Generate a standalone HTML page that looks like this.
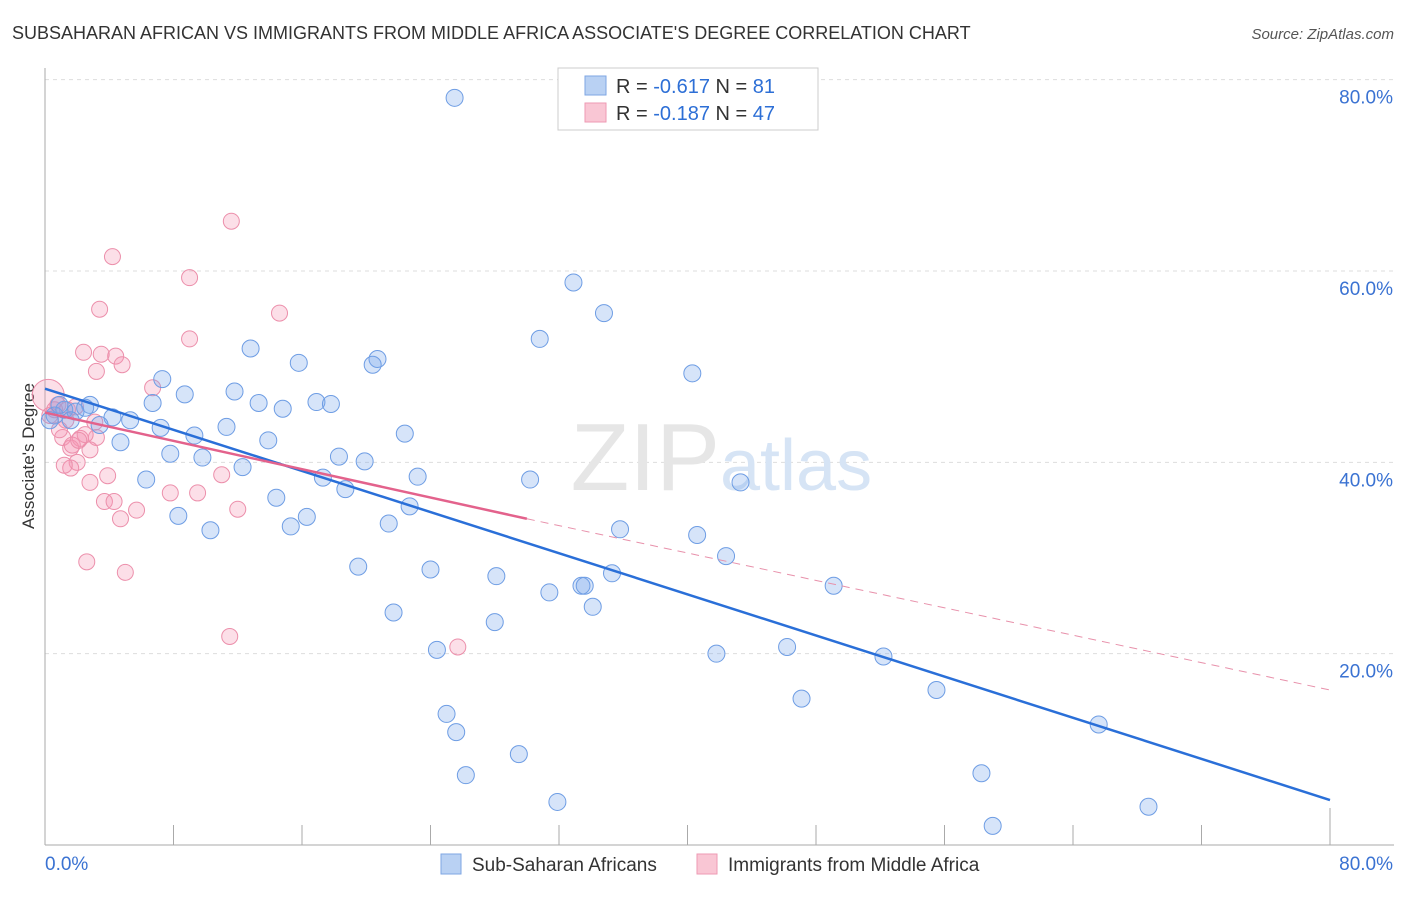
<!DOCTYPE html>
<html><head><meta charset="utf-8"><style>
body{margin:0;background:#fff;font-family:"Liberation Sans",sans-serif;}
svg text{font-family:"Liberation Sans",sans-serif;}
</style></head><body>
<svg id="chart" width="1406" height="892" viewBox="0 0 1406 892" xmlns="http://www.w3.org/2000/svg">
<text x="12" y="39" font-size="18" fill="#333">SUBSAHARAN AFRICAN VS IMMIGRANTS FROM MIDDLE AFRICA ASSOCIATE'S DEGREE CORRELATION CHART</text>
<text x="1394" y="39" font-size="15" fill="#555" text-anchor="end" font-style="italic">Source: ZipAtlas.com</text>
<g id="grid"></g>
<text x="720" y="490" font-size="96" fill="#e6e6e6" text-anchor="end" font-family="Liberation Serif">ZIP</text>
<text x="720" y="490" font-size="72" fill="#d6e4f5">atlas</text>
<text transform="translate(34,456) rotate(-90)" font-size="17" fill="#333" text-anchor="middle">Associate's Degree</text>
<g id="pts"></g>
<g id="lines"></g>
<g>
<rect x="558" y="68" width="260" height="62" fill="#fff" stroke="#ccc"/>
<rect x="585" y="76" width="21" height="19" fill="#b9d1f3" stroke="#7ea6e3"/>
<rect x="585" y="103" width="21" height="19" fill="#f9c6d4" stroke="#ee9ab3"/>
<text x="616" y="93" font-size="20" fill="#333">R = <tspan fill="#2d6fd6">-0.617</tspan>   N = <tspan fill="#2d6fd6">81</tspan></text>
<text x="616" y="120" font-size="20" fill="#333">R = <tspan fill="#2d6fd6">-0.187</tspan>   N = <tspan fill="#2d6fd6">47</tspan></text>
</g>
<g>
<rect x="441" y="854" width="20" height="20" fill="#b9d1f3" stroke="#7ea6e3"/>
<text x="472" y="871" font-size="19" fill="#333">Sub-Saharan Africans</text>
<rect x="697" y="854" width="20" height="20" fill="#f9c6d4" stroke="#ee9ab3"/>
<text x="728" y="871" font-size="19" fill="#333">Immigrants from Middle Africa</text>
</g>
</svg>
<script>
const blueX=[25.5,32.9,34.8,30.8,12.8,20.7,20.4,15.8,40.3,7.3,8.7,11.8,6.7,13.3,16.9,17.8,14.8,2.8,4.2,11.3,7.2,9.3,22.4,13.9,4.7,7.8,9.8,18.3,19.9,12.3,23.2,17.3,30.2,18.7,6.3,43.3,14.4,22.7,16.3,8.3,15.3,10.3,21.4,35.8,40.6,42.4,19.5,24.0,28.1,35.3,33.4,33.6,49.1,31.4,34.1,21.7,28.0,24.4,41.8,46.2,52.2,55.5,47.1,25.0,25.6,65.6,29.5,26.2,58.3,31.9,68.7,59.0,0.6,1.2,1.9,2.5,1.6,3.4,5.3,0.3,0.9];
const blueY=[78.1,58.8,55.6,52.9,51.9,50.8,50.2,50.4,49.3,48.7,47.1,47.4,46.2,46.2,46.3,46.1,45.6,46.0,44.7,43.7,43.6,42.8,43.0,42.3,42.1,40.9,40.5,40.6,40.1,39.5,38.5,38.4,38.2,37.2,38.2,37.9,36.3,35.4,34.3,34.4,33.3,32.9,33.6,33.0,32.4,30.2,29.1,28.8,28.1,28.4,27.1,27.1,27.1,26.4,24.9,24.3,23.3,20.4,20.0,20.7,19.7,16.2,15.3,13.7,11.8,12.6,9.5,7.3,7.5,4.5,4.0,2.0,44.9,45.5,45.3,45.7,44.4,43.9,44.4,44.4,46.0];
const pinkX=[11.6,4.2,9.0,3.4,14.6,9.0,2.4,3.5,4.4,4.8,3.2,6.7,0.2,0.8,1.4,1.9,0.3,1.1,2.2,3.2,2.8,1.6,2.0,1.6,1.2,3.9,2.8,9.5,7.8,3.7,4.3,5.7,12.0,4.7,2.6,5.0,11.5,25.7,0.6,0.9,1.7,2.5,1.3,2.1,3.1,11.0];
const pinkY=[65.2,61.5,59.3,56.0,55.6,52.9,51.5,51.3,51.1,50.2,49.5,47.8,47.0,46.0,45.5,45.8,44.9,42.6,42.5,42.6,41.3,41.5,40.0,39.4,39.7,38.6,37.9,36.8,36.8,35.9,35.9,35.0,35.1,34.1,29.6,28.5,21.8,20.7,45.5,43.4,41.8,42.9,44.4,42.3,44.2,38.7];
const yTicks=[20,40,60,80];
const xTickVals=[0,8,16,24,32,40,48,56,64,72,80];
const blueTrend=[[0,47.7],[80,4.7]];
const pinkTrend=[[0,45.2],[30,34.1],[80,16.2]];
const NS="http://www.w3.org/2000/svg";
const X=v=>45+v*16.0625, Y=v=>845-v*9.567;
function mk(tag,attrs,parent){const e=document.createElementNS(NS,tag);for(const k in attrs)e.setAttribute(k,attrs[k]);parent.appendChild(e);return e;}
const grid=document.getElementById('grid');
yTicks.forEach(t=>{
 const l=mk('line',{x1:45,x2:1394,y1:Y(t),y2:Y(t),stroke:'#ddd','stroke-dasharray':'4,4'},grid);
 
 
 const tx=mk('text',{x:1393,y:Y(t)+24,'font-size':19,fill:'#3a72d2','text-anchor':'end'},grid);
 tx.textContent=t.toFixed(1)+'%';
 
 
});
const ax=mk('line',{x1:45,x2:1394,y1:845,y2:845,stroke:'#aaa'},grid);


const ay=mk('line',{x1:45,x2:45,y1:68,y2:845,stroke:'#aaa'},grid);


xTickVals.forEach(t=>{
 const l=mk('line',{x1:X(t),x2:X(t),y1:t===80?808:825,y2:845,stroke:'#aaa'},grid);
 
 
});
[[0,'start'],[80,'end']].forEach(([t,a])=>{
 const tx=mk('text',{x:t===0?45:1393,y:870,'font-size':19,fill:'#3a72d2','text-anchor':a},grid);
 tx.textContent=t.toFixed(1)+'%';
 
 
});
const pts=document.getElementById('pts');
pinkX.forEach((x,i)=>{
 const c=mk('circle',{cx:X(x),cy:Y(pinkY[i]),r:i===12?16:8,fill:'rgba(244,150,178,0.3)',stroke:'#ec8fab','stroke-width':1},pts);
 
 
});
blueX.forEach((x,i)=>{
 const c=mk('circle',{cx:X(x),cy:Y(blueY[i]),r:8.5,fill:'rgba(120,165,235,0.3)',stroke:'#6e9de4','stroke-width':1},pts);
 
 
});
const lines=document.getElementById('lines');
const bl=mk('line',{x1:X(blueTrend[0][0]),y1:Y(blueTrend[0][1]),x2:X(blueTrend[1][0]),y2:Y(blueTrend[1][1]),stroke:'#2a6fd8','stroke-width':2.5},lines);


const ps=mk('line',{x1:X(pinkTrend[0][0]),y1:Y(pinkTrend[0][1]),x2:X(pinkTrend[1][0]),y2:Y(pinkTrend[1][1]),stroke:'#e3628c','stroke-width':2.5},lines);


const pd=mk('line',{x1:X(pinkTrend[1][0]),y1:Y(pinkTrend[1][1]),x2:X(pinkTrend[2][0]),y2:Y(pinkTrend[2][1]),stroke:'#e891ab','stroke-width':1,'stroke-dasharray':'8,6'},lines);


</script>
</body></html>
